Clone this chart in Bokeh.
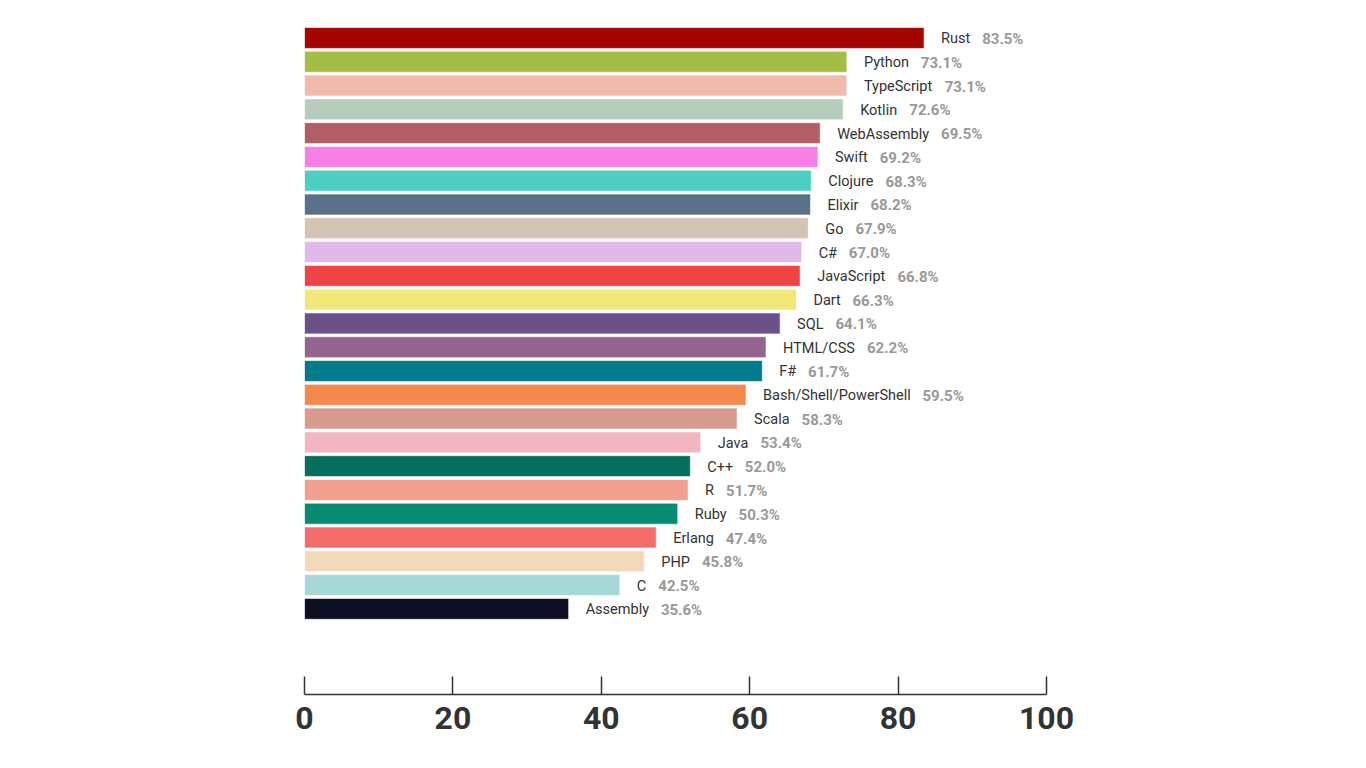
from bokeh.plotting import figure
from bokeh.models import ColumnDataSource, Range1d, FixedTicker
from bokeh.core.properties import value
from bokeh.embed import file_html
from bokeh.resources import INLINE

languages = ["Rust", "Python", "TypeScript", "Kotlin", "WebAssembly", "Swift", "Clojure",
             "Elixir", "Go", "C#", "JavaScript", "Dart", "SQL", "HTML/CSS", "F#",
             "Bash/Shell/PowerShell", "Scala", "Java", "C++", "R", "Ruby", "Erlang",
             "PHP", "C", "Assembly"]
loved = [83.5, 73.1, 73.1, 72.6, 69.5, 69.2, 68.3, 68.2, 67.9, 67.0, 66.8, 66.3, 64.1,
         62.2, 61.7, 59.5, 58.3, 53.4, 52.0, 51.7, 50.3, 47.4, 45.8, 42.5, 35.6]
colors = ["#a50502", "#a5bd44", "#f0bbad", "#b6cdbd", "#b25e67", "#f57fe6", "#4ecdc4",
          "#5a7188", "#d3c4b4", "#e0b8ea", "#ef4445", "#f2e87a", "#6b5188", "#94648e",
          "#017b8c", "#f3894d", "#d99b8e", "#f2b6c0", "#04705d", "#f2a190", "#058b72",
          "#f26c6c", "#f3d9bc", "#a8d9d9", "#0f0f24"]
x_ticks = [0, 20, 40, 60, 80, 100]

# approximate Roboto Regular advance widths (units of 2048 em)
W = {'a': 1114, 'b': 1146, 'c': 1069, 'd': 1150, 'e': 1083, 'f': 711, 'g': 1146, 'h': 1126,
     'i': 497, 'j': 489, 'k': 1016, 'l': 497, 'm': 1788, 'n': 1128, 'o': 1166, 'p': 1146,
     'q': 1156, 'r': 692, 's': 1057, 't': 669, 'u': 1126, 'v': 990, 'w': 1534, 'x': 1013,
     'y': 968, 'z': 1013, 'A': 1336, 'B': 1277, 'C': 1333, 'D': 1344, 'E': 1164, 'F': 1132,
     'G': 1395, 'H': 1460, 'I': 557, 'J': 1130, 'K': 1284, 'L': 1102, 'M': 1788, 'N': 1460,
     'O': 1408, 'P': 1292, 'Q': 1408, 'R': 1260, 'S': 1218, 'T': 1222, 'U': 1328, 'V': 1303,
     'W': 1817, 'X': 1284, 'Y': 1230, 'Z': 1226, '/': 826, '#': 1232, '+': 1134, ' ': 507}
NAME_SIZE = 14.5

def text_width(s):
    return sum(W.get(ch, 1100) for ch in s) / 2048 * NAME_SIZE

ypos = list(range(len(languages)))
name_off = [17] * len(languages)
val_off = [17 + text_width(n) + 12 for n in languages]
pct = [f"{v:.1f}%" for v in loved]

src = ColumnDataSource(dict(y=ypos, v=loved, name=languages, color=colors,
                            pct=pct, noff=name_off, voff=val_off))

p = figure(width=1350, height=750, output_backend="svg", toolbar_location=None,
           x_range=Range1d(0, 100), y_range=Range1d(27.6, -0.735),
           min_border_left=304, min_border_right=304, min_border_top=20, min_border_bottom=56)

p.hbar(y="y", right="v", left=0, height=0.88, color="color", line_color="white",
       line_alpha=0.6, line_width=1, source=src)

p.text(x="v", y="y", text="name", x_offset="noff", y_offset=1, source=src,
       text_font=value("Roboto"), text_font_size="14.5px", text_color="#333333",
       text_baseline="middle", text_align="left")
p.text(x="v", y="y", text="pct", x_offset="voff", y_offset=1, source=src,
       text_font=value("Roboto"), text_font_size="15px", text_font_style="bold",
       text_color="#999999", text_baseline="middle", text_align="left")

p.yaxis.visible = False
p.xgrid.visible = False
p.ygrid.visible = False
p.outline_line_color = None
p.background_fill_color = "white"
p.border_fill_color = "white"

ax = p.xaxis[0]
ax.ticker = FixedTicker(ticks=x_ticks)
ax.axis_line_color = "#333333"
ax.axis_line_width = 1.5
ax.major_tick_line_color = "#333333"
ax.major_tick_line_width = 1.5
ax.major_tick_in = 18
ax.major_tick_out = 0
ax.minor_tick_line_color = None
ax.major_label_text_font = "Roboto"
ax.major_label_text_font_size = "32px"
ax.major_label_text_font_style = "bold"
ax.major_label_text_color = "#333333"
ax.major_label_standoff = 12

open("out.html", "w").write(file_html(p, INLINE))
